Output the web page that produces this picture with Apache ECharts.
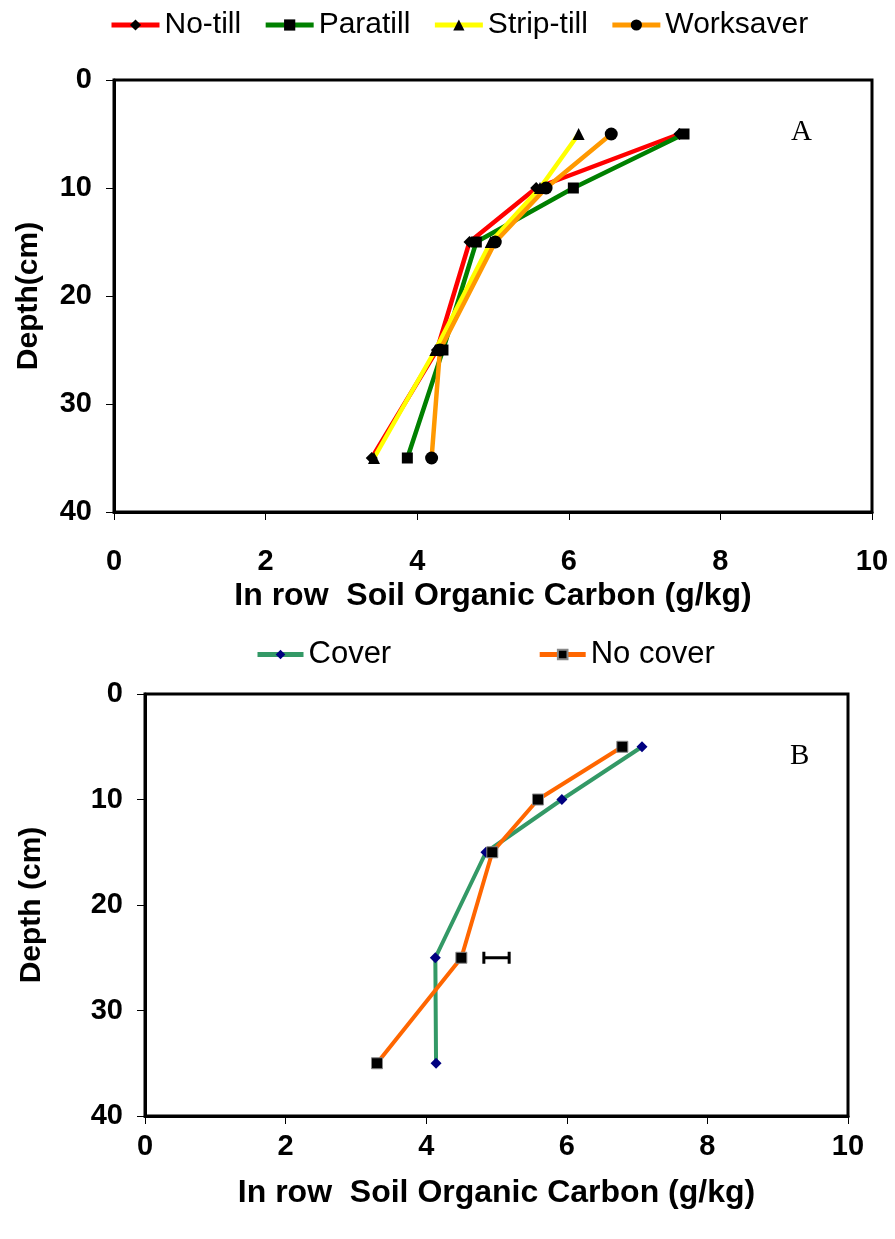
<!DOCTYPE html>
<html>
<head>
<meta charset="utf-8">
<script src="https://cdn.jsdelivr.net/npm/echarts@6/dist/echarts.min.js"></script>
<style>
html,body{margin:0;padding:0;background:#fff;}
#c{width:895px;height:1239px;}
</style>
</head>
<body>
<div id="c"></div>
<script>
// ---- data ----
var depths = [5, 10, 15, 25, 35];
var noTill = [7.46, 5.57, 4.69, 4.26, 3.40];
var paratill = [7.52, 6.06, 4.78, 4.34, 3.87];
var stripTill = [6.13, 5.62, 4.97, 4.24, 3.43];
var worksaver = [6.56, 5.70, 5.03, 4.30, 4.19];
var cover = [7.07, 5.93, 4.85, 4.13, 4.14];
var noCover = [6.79, 5.59, 4.94, 4.50, 3.30];
var errorBar = [[4.82, 5.18, 25]];
var xTicks = [0, 2, 4, 6, 8, 10];
var yTicks = [0, 10, 20, 30, 40];

function pairs(vals) { return vals.map(function (v, i) { return [v, depths[i]]; }); }

var FONT = '"Liberation Sans", Arial, sans-serif';

function xAxis(gi, labelMargin, nameGap) {
  return {
    gridIndex: gi, type: 'value', min: xTicks[0], max: xTicks[xTicks.length - 1], interval: 2,
    position: 'bottom',
    name: 'In row  Soil Organic Carbon (g/kg)', nameLocation: 'middle', nameGap: nameGap,
    nameTextStyle: { fontFamily: FONT, fontWeight: 'bold', fontSize: 32, color: '#000' },
    axisLine: { show: true, onZero: false, lineStyle: { color: '#000', width: 3 } },
    axisTick: { show: true, length: 8, lineStyle: { color: '#000', width: 1 } },
    axisLabel: { fontFamily: FONT, fontWeight: 'bold', fontSize: 29, color: '#000', margin: labelMargin },
    splitLine: { show: false }
  };
}
function yAxis(gi, name, nameGap) {
  return {
    gridIndex: gi, type: 'value', inverse: true, min: yTicks[0], max: yTicks[yTicks.length - 1], interval: 10,
    name: name, nameLocation: 'middle', nameGap: nameGap, nameRotate: 90,
    nameTextStyle: { fontFamily: FONT, fontWeight: 'bold', fontSize: 30, color: '#000' },
    axisLine: { show: true, onZero: false, lineStyle: { color: '#000', width: 3 } },
    axisTick: { show: true, length: 8, lineStyle: { color: '#000', width: 1 } },
    axisLabel: { fontFamily: FONT, fontWeight: 'bold', fontSize: 29, color: '#000', margin: 22 },
    splitLine: { show: false }
  };
}

function lineSeries(name, vals, color, symbol, size, gi, symColor, width, border) {
  return {
    name: name, type: 'line', xAxisIndex: gi, yAxisIndex: gi,
    data: pairs(vals), symbol: symbol, symbolSize: size, showAllSymbol: true,
    lineStyle: { color: color, width: width },
    itemStyle: { color: symColor, borderColor: border || symColor, borderWidth: border ? 1 : 0 },
    color: color, z: 3, animation: false
  };
}

var chart = echarts.init(document.getElementById('c'), null, { renderer: 'canvas' });
chart.setOption({
  animation: false,
  backgroundColor: '#fff',
  grid: [
    { left: 114, top: 80, right: 23, height: 432, show: true, borderColor: '#000', borderWidth: 3, backgroundColor: 'transparent' },
    { left: 145, top: 694, right: 47, height: 422, show: true, borderColor: '#000', borderWidth: 3, backgroundColor: 'transparent' }
  ],
  legend: [
    {
      data: ['No-till', 'Paratill', 'Strip-till', 'Worksaver'],
      left: 104, top: 5, itemWidth: 48, itemHeight: 14, itemGap: 22,
      lineStyle: { width: 5 },
      textStyle: { fontFamily: FONT, fontSize: 30, color: '#000' }
    },
    {
      data: ['Cover', 'No cover'],
      left: 250, top: 634, itemWidth: 46, itemHeight: 12, itemGap: 146,
      lineStyle: { width: 5 },
      textStyle: { fontFamily: FONT, fontSize: 31, color: '#000' }
    }
  ],
  xAxis: [xAxis(0, 35, 68), xAxis(1, 16, 61)],
  yAxis: [yAxis(0, 'Depth(cm)', 70), yAxis(1, 'Depth (cm)', 98)],
  graphic: [
    { type: 'text', left: 791, top: 118, style: { text: 'A', fontFamily: '"Liberation Serif", "Times New Roman", serif', fontSize: 29, fill: '#000' } },
    { type: 'text', left: 790, top: 742, style: { text: 'B', fontFamily: '"Liberation Serif", "Times New Roman", serif', fontSize: 29, fill: '#000' } }
  ],
  series: [
    lineSeries('No-till', noTill, '#FF0000', 'diamond', 12, 0, '#000', 4.5),
    lineSeries('Paratill', paratill, '#008000', 'rect', 11, 0, '#000', 4.5),
    lineSeries('Strip-till', stripTill, '#FFFF00', 'triangle', 12, 0, '#000', 4.5),
    lineSeries('Worksaver', worksaver, '#FF9900', 'circle', 13, 0, '#000', 4.5),
    lineSeries('Cover', cover, '#339966', 'diamond', 11, 1, '#000080', 4),
    lineSeries('No cover', noCover, '#FF6600', 'rect', 11, 1, '#000', 4, '#888'),
    {
      name: 'LSD', type: 'custom', xAxisIndex: 1, yAxisIndex: 1, data: errorBar, z: 4,
      renderItem: function (params, api) {
        var y = api.value(2);
        var p1 = api.coord([api.value(0), y]);
        var p2 = api.coord([api.value(1), y]);
        var st = { stroke: '#000', lineWidth: 3 };
        return {
          type: 'group', children: [
            { type: 'line', shape: { x1: p1[0], y1: p1[1], x2: p2[0], y2: p2[1] }, style: st },
            { type: 'line', shape: { x1: p1[0], y1: p1[1] - 6, x2: p1[0], y2: p1[1] + 6 }, style: st },
            { type: 'line', shape: { x1: p2[0], y1: p2[1] - 6, x2: p2[0], y2: p2[1] + 6 }, style: st }
          ]
        };
      }
    }
  ]
});
</script>
</body>
</html>
